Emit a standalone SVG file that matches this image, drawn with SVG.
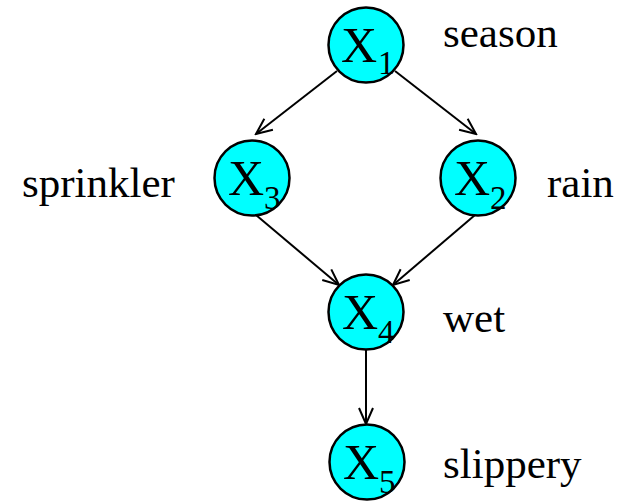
<svg xmlns="http://www.w3.org/2000/svg" width="623" height="502" viewBox="0 0 623 502">
<defs>
<style>
.node circle{fill:#00ffff;stroke:#000;stroke-width:2.5}
.x{font-family:"Liberation Serif","Times New Roman",serif;font-size:50px;fill:#000}
.s{font-family:"Liberation Serif","Times New Roman",serif;font-size:33px;fill:#000}
.lbl{font-family:"Liberation Serif","Times New Roman",serif;font-size:43px;fill:#000}
.edge{stroke:#000;stroke-width:2;fill:none}
</style>
<marker id="ah" viewBox="0 0 20 20" refX="18" refY="10" markerWidth="20" markerHeight="20" markerUnits="userSpaceOnUse" orient="auto">
<path d="M2,3 L18,10 L2,17" fill="none" stroke="#000" stroke-width="2"/>
</marker>
</defs>
<rect width="623" height="502" fill="#fff"/>
<g id="connectors">
<line class="edge" x1="337" y1="71" x2="256" y2="134" marker-end="url(#ah)"/>
<line class="edge" x1="395" y1="71" x2="476" y2="134" marker-end="url(#ah)"/>
<line class="edge" x1="256" y1="215" x2="339" y2="285" marker-end="url(#ah)"/>
<line class="edge" x1="475" y1="215" x2="393" y2="285" marker-end="url(#ah)"/>
<line class="edge" x1="366" y1="350" x2="366" y2="424" marker-end="url(#ah)"/>
</g>
<g id="X1" class="node"><circle cx="366" cy="45" r="37.5"/><text class="x" x="341" y="62">X</text><text class="s" x="378" y="74">1</text></g>
<g id="X3" class="node"><circle cx="252" cy="178" r="37.5"/><text class="x" x="228" y="195">X</text><text class="s" x="264" y="209">3</text></g>
<g id="X2" class="node"><circle cx="478" cy="178" r="37.5"/><text class="x" x="454" y="195">X</text><text class="s" x="490" y="209">2</text></g>
<g id="X4" class="node"><circle cx="366" cy="312" r="37.5"/><text class="x" x="342" y="329">X</text><text class="s" x="378" y="343">4</text></g>
<g id="X5" class="node"><circle cx="367" cy="462" r="37.5"/><text class="x" x="343" y="479">X</text><text class="s" x="379" y="493">5</text></g>
<g id="labels">
<text class="lbl" x="443" y="47">season</text>
<text class="lbl" x="22" y="197">sprinkler</text>
<text class="lbl" x="547" y="197">rain</text>
<text class="lbl" x="443" y="332">wet</text>
<text class="lbl" x="443" y="478">slippery</text>
</g>
</svg>
